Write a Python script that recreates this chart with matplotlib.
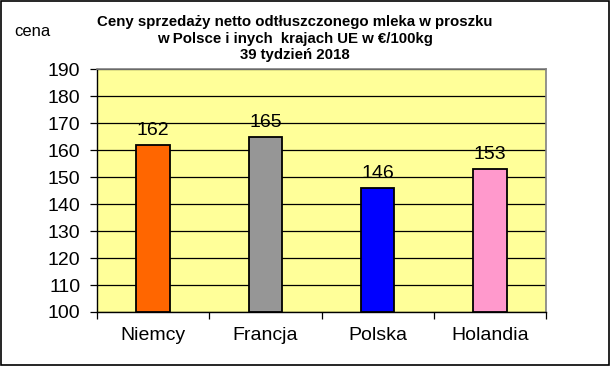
import matplotlib.pyplot as plt
from matplotlib.patches import Rectangle

plt.rcParams['font.family'] = ['Liberation Sans', 'DejaVu Sans']

# dane
kraje = ['Niemcy', 'Francja', 'Polska', 'Holandia']
ceny = [162, 165, 146, 153]
kolory = ['#FF6600', '#969696', '#0000FF', '#FF99CC']
yticks = list(range(100, 191, 10))

fig = plt.figure(figsize=(6.12, 3.66), dpi=100)
fig.patch.set_facecolor('white')
# ramka wokol calego wykresu
fig.patches.append(Rectangle((0.002, 0.003), 0.993, 0.993, transform=fig.transFigure,
                             fill=False, edgecolor='black', linewidth=1.2))

ax = fig.add_axes([97 / 612, 54 / 366, 449 / 612, 243 / 366])
ax.set_facecolor('#FFFF99')

x = range(len(kraje))
ax.bar(x, [c - 100 for c in ceny], bottom=100, width=0.3, color=kolory,
       edgecolor='black', linewidth=1.3, zorder=3)
for i, c in enumerate(ceny):
    ax.annotate(str(c), (i, c), xytext=(0, 4), textcoords='offset points',
                ha='center', va='bottom', fontsize=14)

ax.set_ylim(100, 190)
ax.set_xlim(-0.5, len(kraje) - 0.5)
ax.set_yticks(yticks)
ax.yaxis.grid(True, color='black', linewidth=0.9, zorder=1)
ax.set_axisbelow(True)
ax.tick_params(axis='y', direction='out', length=5, width=0.9, pad=7, labelsize=14)

ax.set_xticks(list(x))
ax.set_xticklabels(kraje, fontsize=14)
ax.set_xticks([i + 0.5 for i in range(-1, len(kraje))], minor=True)
ax.tick_params(axis='x', which='major', length=0, pad=11)
ax.tick_params(axis='x', which='minor', direction='out', length=5, width=0.9)

for s in ['top', 'right']:
    ax.spines[s].set_color('#808080')
    ax.spines[s].set_linewidth(1.2)
for s in ['left', 'bottom']:
    ax.spines[s].set_color('black')
    ax.spines[s].set_linewidth(1.0)

fig.text(294.5 / 612, 1 - 15 / 366,
         'Ceny sprzedaży netto odtłuszczonego mleka w proszku\n'
         'w Polsce i inych  krajach UE w €/100kg\n39 tydzień 2018',
         ha='center', va='top', fontsize=10.8, fontweight='bold', linespacing=1.25)
fig.text(14 / 612, 1 - 32 / 366, 'cena', ha='left', va='center', fontsize=12)

fig.savefig('out.png', dpi=100)
